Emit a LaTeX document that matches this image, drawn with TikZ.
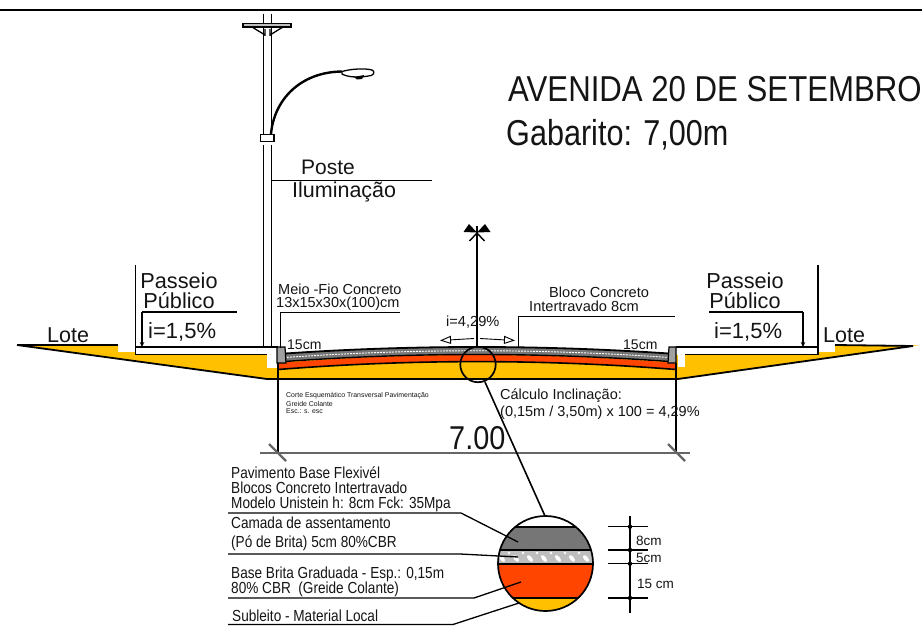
\documentclass[tikz,border=0pt]{standalone}
\usepackage{fontspec}
\setmainfont{Liberation Sans}
\usetikzlibrary{arrows.meta}
\definecolor{amber}{RGB}{255,192,0}
\definecolor{redlayer}{RGB}{255,69,0}
\definecolor{graylayer}{RGB}{118,118,118}
\definecolor{lightlayer}{RGB}{190,190,190}
\newcommand{\nar}[2][.85]{\scalebox{#1}[1]{#2}}
\tikzset{
  lbl/.style={inner sep=0pt,anchor=west,text=black!92},
  fs/.style={font=\fontsize{#1}{#1}\selectfont},
  tight/.style={text height=10pt,text depth=2pt},
  thinln/.style={line width=.9pt,black},
  medln/.style={line width=1.3pt,black},
  thickln/.style={line width=1.8pt,black},
  dimgray/.style={line width=1.8pt,black!60}
}
\begin{document}
\begin{tikzpicture}[x=1pt,y=-1pt]
\useasboundingbox (0,0) rectangle (922,626);
% top rule
\draw[line width=2.4pt] (0,10) -- (922,10);
% ground
\fill[amber] (17,345) -- (118,345) -- (118,352) -- (267,352) -- (267,354) -- (678,354) -- (685,352) -- (835,352) -- (835,345) -- (920,345) -- (678,379) -- (267,379) -- cycle;
\fill[white] (267,354) rectangle (278,368);
\fill[white] (678,354) rectangle (685,367);
\fill[white] (278,340) rectangle (676,345);
\fill[white] (278,345) -- (278,354) .. controls (411,344.67) and (543,344.67) .. (676,354) -- (676,345) -- cycle;
% road layers
\fill[redlayer] (278,363) .. controls (411,352.33) and (543,352.33) .. (676,363) -- (676,369) .. controls (543,359) and (411,359) .. (278,369) -- cycle;
\fill[graylayer] (278,354) .. controls (411,344.67) and (543,344.67) .. (676,354) -- (676,362) .. controls (543,352) and (411,352) .. (278,362) -- cycle;
\draw[line width=1.8pt] (278,354) .. controls (411,344.67) and (543,344.67) .. (676,354);
\draw[white,line width=.9pt,dash pattern=on 2pt off 1pt] (278,358) .. controls (411,348.33) and (543,348.33) .. (676,358);
\draw[line width=1.4pt] (278,362) .. controls (411,352) and (543,352) .. (676,362);
\draw[line width=1.6pt] (278,369.5) .. controls (411,359) and (543,359) .. (676,369.5);
\draw[line width=1.9pt] (267,379) -- (678,379);
% slopes and lot lines
\draw[thickln] (17,345) -- (118,345);
\draw[thickln] (17,345) -- (267,379);
\draw[thickln] (835,345) -- (913,346);
\draw[thickln] (913,346) -- (678,379);
% sidewalks
\fill[white] (135,346.5) rectangle (278,354.5);
\fill[white] (676,346.5) rectangle (818,354.5);
\draw[medln] (278,347) -- (135.5,347);
\draw[thickln] (135.5,265) -- (135.5,354.5) -- (267,354.5);
\draw[medln] (676,347) -- (818,347);
\draw[thickln] (818,265) -- (818,354.5) -- (685,354.5);
% curbs
\draw[fill=lightlayer!85!black,line width=1.2pt] (277,347) -- (285,347) -- (286,363) -- (277,363) -- cycle;
\draw[fill=lightlayer!85!black,line width=1.2pt] (669,347) -- (676,347) -- (676,363) -- (668,363) -- cycle;
% slope callouts
\draw[thickln] (237,312) -- (142,312);
\draw[thickln,-{Stealth[length=5pt,width=4.5pt]}] (142,312) -- (142,347);
\draw[thickln] (709,312) -- (803,312);
\draw[thickln,-{Stealth[length=5pt,width=4.5pt]}] (803,312) -- (803,347);
% pole
\draw[thickln] (263.5,14) -- (263.5,137);
\draw[medln] (271.5,14) -- (271.5,137);
\draw[thickln] (263.5,145) -- (263.5,347);
\draw[medln] (271.5,145) -- (271.5,347);
\draw[medln,fill=lightlayer] (243,23.5) rectangle (291,27);
\draw[medln] (252,27) -- (265,35) (283,27) -- (270,35) (265,29) -- (265,36) (270,29) -- (270,36);
\draw[medln,fill=white] (260.5,134.5) rectangle (274,141.5);
% lamp arm
\draw[line width=2.4pt] (271,134) .. controls (274,100) and (300,72) .. (342,71.5);
\draw[line width=1.3pt,fill=white] (342,71.5) .. controls (350,69) and (365,68) .. (372,70) .. controls (375,71) and (374,75) .. (371,75.5) .. controls (362,77.5) and (349,78) .. (342,74) -- cycle;
\fill (354,77) -- (364,75) -- (362,79) -- (357,79.5) -- cycle;
% pole leader
\draw[thinln] (272,180) -- (432,180);
% centre axis
\draw[line width=1.6pt] (477,347) -- (477,226);
\draw[line width=1.4pt] (469.5,241) -- (477,233) -- (484.5,241);
\fill (463.5,232) -- (469,224) -- (477,232.5) -- (464,232) -- cycle;
\fill (477,232.5) -- (485,224) -- (490.5,232) -- cycle;
% i=4,29 arrows
\draw[thinln,-{Triangle[open,length=11pt,width=8pt]}] (474,338.5) -- (440,340.5);
\draw[thinln,-{Triangle[open,length=11pt,width=8pt]}] (480,338.5) -- (515,340.5);
% leaders
\draw[thinln] (280,348) -- (280,312.5) -- (400,312.5);
\draw[thinln] (518,347) -- (518,316.5) -- (675,316.5);
% dimension 7.00
\draw[thickln] (278,363) -- (278,453);
\draw[thickln] (676,363) -- (676,453);
\draw[dimgray] (260,452.7) -- (690,452.7);
\draw[line width=2.4pt,black!60] (269,444) -- (286,461);
\draw[line width=2.4pt,black!60] (668,444) -- (685,461);
% detail circle small
\draw[line width=1.7pt] (478,364.5) circle (17.7);
% detail circle large
\begin{scope}
\clip (545.5,563.5) circle (47.5);
\fill[white] (490,510) rectangle (600,527);
\fill[graylayer] (490,527) rectangle (600,550);
\fill[lightlayer] (490,550) rectangle (600,564);
\foreach \ex in {502,516,530,544,558,572,586} {
  \fill[white,rotate around={-50:(\ex,558.5)}] (\ex,558.5) ellipse (4 and 2);
  \fill[white] (\ex+7,553) circle (1.3);
}
\fill[redlayer] (490,564) rectangle (600,598);
\fill[amber] (490,598) rectangle (600,612);
\draw[line width=1.7pt] (490,527) -- (600,527);
\draw[line width=1.2pt] (490,550) -- (600,550);
\draw[line width=1.7pt] (490,564) -- (600,564);
\draw[line width=1.5pt] (490,598) -- (600,598);
\end{scope}
\draw[line width=1.7pt] (545.5,563.5) circle (47.5);
\draw[line width=1.6pt] (485,382) -- (545,516);
% layer leaders
\draw[line width=1.3pt] (228,513) -- (461,513) -- (518,542);
\draw[line width=1.3pt] (228,554) -- (460,554) -- (518,557);
\draw[line width=1.3pt] (228,598) -- (474,598) -- (521,582);
\draw[line width=1.3pt] (228,624.5) -- (453,624.5) -- (519,603);
% layer dimension
\draw[line width=1.4pt] (630,516) -- (630,613);
\draw[line width=1.4pt] (607.5,526.7) -- (648,526.7) (607.5,550) -- (648,550) (607.5,563.7) -- (648,563.7) (607.5,598) -- (648,598);
\foreach \dy in {526.7,550,563.7,598} \fill (630,\dy) circle (2.2);
% texts
\node[lbl,fs=36] (title) at (508,89) {\nar[.866]{AVENIDA 20 DE SETEMBRO}};
\node[lbl,fs=36] (gab) at (506,135) {\nar[.85]{Gabarito: 7,00m}};
\node[lbl,fs=21] (poste) at (301,167) {Poste};
\node[lbl,fs=21.5] (ilum) at (292,192) {Iluminação};
\node[lbl,fs=21.5] (lote1) at (47,335) {Lote};
\node[lbl,fs=21.5] (lote2) at (823,335) {Lote};
\node[lbl,fs=21.7,anchor=center] (pp1) at (179,281) {Passeio};
\node[lbl,fs=21.7,anchor=center] (pp2) at (179,301) {Público};
\node[lbl,fs=21.7,anchor=center] (pp3) at (745,281) {Passeio};
\node[lbl,fs=21.7,anchor=center] (pp4) at (745,301) {Público};
\node[lbl,fs=22] (i1) at (148,332) {i=1,5\%};
\node[lbl,fs=22] (i2) at (714,332) {i=1,5\%};
\node[lbl,fs=14.5,tight] (mf1) at (278,290) {Meio -Fio Concreto};
\node[lbl,fs=14.5,tight] (mf2) at (276,303) {13x15x30x(100)cm};
\node[lbl,fs=14.6,tight] (bc1) at (549,293) {Bloco Concreto};
\node[lbl,fs=14.6,tight] (bc2) at (529,307) {Intertravado 8cm};
\node[lbl,fs=14.6] (i429) at (446,322) {i=4,29\%};
\node[lbl,fs=14] (c1) at (287,345) {15cm};
\node[lbl,fs=14] (c2) at (623,345) {15cm};
\node[lbl,fs=7] (ce1) at (286,395.5) {\nar[.99]{Corte Esquemático Transversal Pavimentação}};
\node[lbl,fs=7] (ce2) at (286,403.5) {\nar[.99]{Greide Colante}};
\node[lbl,fs=7] (ce3) at (286,411) {\nar[.99]{Esc.: s. esc}};
\node[lbl,fs=14.5] (ci1) at (500,396) {Cálculo Inclinação:};
\node[lbl,fs=14.5] (ci2) at (500,413) {(0,15m / 3,50m) x 100 = 4,29\%};
\node[lbl,fs=33] (sev) at (449,438) {\nar[.875]{7.00}};
\node[lbl,fs=16,tight] (l1) at (231,474) {\nar{Pavimento Base Flexivél}};
\node[lbl,fs=16,tight] (l2) at (231,489) {\nar{Blocos Concreto Intertravado}};
\node[lbl,fs=16,tight] (l3) at (231,504) {\nar{Modelo Unistein h: 8cm Fck: 35Mpa}};
\node[lbl,fs=16,tight] (l4) at (231,524) {\nar{Camada de assentamento}};
\node[lbl,fs=16,tight] (l5) at (231,543) {\nar{(Pó de Brita) 5cm 80\%CBR}};
\node[lbl,fs=16,tight] (l6) at (231,574) {\nar{Base Brita Graduada - Esp.: 0,15m}};
\node[lbl,fs=16,tight] (l7) at (231,589) {\nar{80\% CBR \ (Greide Colante)}};
\node[lbl,fs=16,tight] (l8) at (232,617) {\nar{Subleito - Material Local}};
\node[lbl,fs=13.5] (d8) at (636,541) {8cm};
\node[lbl,fs=13.5] (d5) at (636,558) {5cm};
\node[lbl,fs=13.5] (d15) at (637,584) {15 cm};
\end{tikzpicture}
\end{document}
